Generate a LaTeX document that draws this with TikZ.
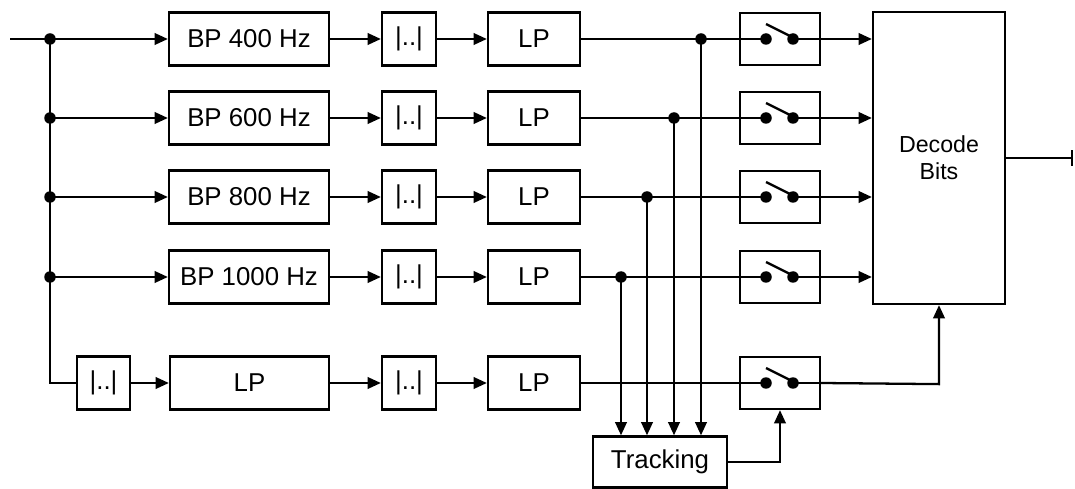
\documentclass[tikz,border=0pt]{standalone}
\usepackage{fontspec}
\setmainfont{Liberation Sans}
\usetikzlibrary{arrows.meta,calc}
\begin{document}
\begin{tikzpicture}[x=0.02cm,y=-0.02cm,
  line width=1.3pt,
  blk/.style={draw,rectangle,inner sep=0pt,minimum height=1.06cm,font=\fontsize{14.7}{17}\selectfont},
  bpbox/.style={blk,minimum width=3.2cm},
  absbox/.style={blk,minimum width=1.08cm},
  lpbox/.style={blk,minimum width=1.84cm},
  swbox/.style={draw,rectangle,inner sep=0pt,minimum width=1.6cm,minimum height=1.04cm},
  arr/.style={-{Triangle[length=7.5pt,width=6.5pt]}},
  dot/.style={fill,circle,inner sep=0pt,minimum size=0.23cm},
]
\useasboundingbox (0,0) rectangle (1075,489);
% input
\coordinate (in) at (10,39);
% rows
\foreach \i/\y/\f in {1/39/400,2/118/600,3/197/800,4/277/1000}{
  \coordinate (j\i) at (50,\y);
  \node[bpbox] (bp\i) at (249,\y) {BP \f\ Hz};
  \node[absbox] (ab\i) at (409,\y) {|..|};
  \node[lpbox] (lp\i) at (534,\y) {LP};
  \node[swbox] (sw\i) at (780,\y) {};
}
% bottom row
\coordinate (j5) at (50,383);
\node[blk,minimum width=1.06cm] (ab0) at (103.5,383) {|..|};
\node[blk,minimum width=3.18cm] (lpb) at (249.5,383) {LP};
\node[absbox] (ab5) at (409,383) {|..|};
\node[lpbox] (lp5) at (534,383) {LP};
\node[swbox] (sw5) at (780,383) {};
% decode and tracking
\node[draw,rectangle,inner sep=0pt,minimum width=2.64cm,minimum height=5.84cm,align=center,
  font=\fontsize{13.2}{15.5}\selectfont] (dec) at (939,158) {Decode\\Bits};
\node[draw,rectangle,inner sep=0pt,minimum width=2.68cm,minimum height=1.02cm,
  font=\fontsize{14.7}{17}\selectfont] (trk) at (660,462) {Tracking};
\coordinate (out) at (1073,158);
% tap points
\coordinate (t1) at (701,39);
\coordinate (t2) at (674,118);
\coordinate (t3) at (647,197);
\coordinate (t4) at (621,277);
% switches
\foreach \i in {1,...,5}{
  \coordinate (sa\i) at ($(sw\i.center)+(-14,0)$);
  \coordinate (sb\i) at ($(sw\i.center)+(13,0)$);
  \node[dot] at (sa\i) {};
  \node[dot] at (sb\i) {};
  \draw ($(sa\i)+(0,-15)$) -- ($(sb\i)+(-3,-3)$);
  \draw (sw\i.west) -- (sa\i);
  \draw (sb\i) -- (sw\i.east);
}
% input bus
\draw (in) -- (j1);
\draw (j1) -- (j5) -- (ab0.west);
\draw[arr] (ab0) -- (lpb);
\draw[arr] (lpb) -- (ab5);
\draw[arr] (ab5) -- (lp5);
\draw (lp5) -- (sw5.west);
\draw[arr] (sw5.east) -- ($(dec.south)+(0,383-304)$) -- (dec.south);
\foreach \i in {1,...,4}{
  \node[dot] at (j\i) {};
  \node[dot] at (t\i) {};
  \draw[arr] (j\i) -- (bp\i);
  \draw[arr] (bp\i) -- (ab\i);
  \draw[arr] (ab\i) -- (lp\i);
  \draw (lp\i) -- (t\i) -- (sw\i.west);
  \draw[arr] (sw\i.east) -- (sw\i.east -| dec.west);
  \draw[arr] (t\i) -- (t\i |- trk.north);
}
% tracking to switch 5
\draw[arr] (trk.east) -| (sw5.south);
% output
\draw[-{Bar[width=9pt]}] (dec.east |- out) -- (out);
\end{tikzpicture}
\end{document}
